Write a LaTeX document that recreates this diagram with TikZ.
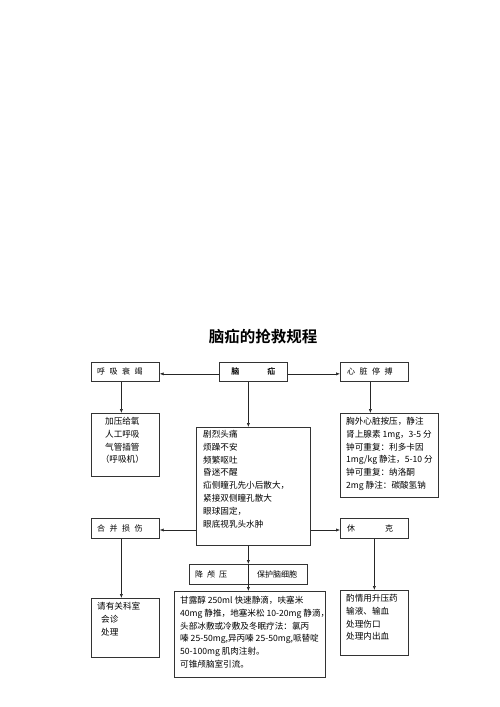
\documentclass[tikz,border=0pt]{standalone}
\usepackage{fontspec}
\setmainfont{Noto Sans CJK SC}
\newfontfamily\cjkb{Noto Sans CJK SC Bold}
\usetikzlibrary{arrows.meta,calc}
\tikzset{
  box/.style={draw=black!80, line width=0.7pt, rectangle, anchor=north west, inner sep=0pt},
  lbl/.style={anchor=west, inner sep=0pt, font=\fontsize{8}{10}\selectfont},
  body/.style={anchor=north west, inner sep=0pt, align=left, font=\fontsize{8.6}{12.8}\selectfont},
  arr/.style={draw=black!85, line width=0.6pt, -{Latex[length=4pt,width=3.2pt]}},
  ln/.style={draw=black!85, line width=0.6pt}
}
\begin{document}
\begin{tikzpicture}[x=1pt,y=-1pt]
\useasboundingbox[fill=white] (0,0) rectangle (500,707);
% title
\node[font=\cjkb\fontsize{15.5}{17}\selectfont, inner sep=0pt] (title) at (263,337) {脑疝的抢救规程};
% top row boxes
\node[box, minimum width=68, minimum height=19] (hx) at (91,362) {};
\node[lbl] at ([xshift=6]hx.west) {呼\hspace{4.5pt}吸\hspace{4.5pt}衰\hspace{4.5pt}竭};
\node[box, minimum width=68, minimum height=19] (nh) at (219,362) {};
\node[lbl, anchor=center, font=\cjkb\fontsize{8}{10}\selectfont] at (nh.center) {脑\hspace{28pt}疝};
\node[box, minimum width=68, minimum height=19] (xz) at (340,362) {};
\node[lbl] at ([xshift=7]xz.west) {心\hspace{4.5pt}脏\hspace{4.5pt}停\hspace{4.5pt}搏};
% second row boxes
\node[box, minimum width=68, minimum height=63] (b1) at (91,413) {};
\node[body, anchor=north, align=center] at ([shift={(-3,4)}]b1.north) {加压给氧\\人工呼吸\\气管插管\\（呼吸机）};
\node[box, minimum width=114, minimum height=118] (sym) at (196,427) {};
\node[body] at ([shift={(7,3)}]sym.north west) {剧烈头痛\\烦躁不安\\频繁呕吐\\昏迷不醒\\疝侧瞳孔先小后散大，\\紧接双侧瞳孔散大\\眼球固定，\\眼底视乳头水肿};
\node[box, minimum width=98, minimum height=84] (b3) at (340,413) {};
\node[body] at ([shift={(6,4)}]b3.north west) {胸外心脏按压，静注\\肾上腺素 1mg，3-5 分\\钟可重复：利多卡因\\1mg/kg 静注，5-10 分\\钟可重复：纳洛酮\\2mg 静注：碳酸氢钠};
% third row
\node[box, minimum width=68, minimum height=20] (hb) at (91,518) {};
\node[lbl] at ([xshift=6]hb.west) {合\hspace{4.5pt}并\hspace{4.5pt}损\hspace{4.5pt}伤};
\node[box, minimum width=68, minimum height=20] (xk) at (340,518) {};
\node[lbl] at ([xshift=7]xk.west) {休\hspace{30pt}克};
\node[box, minimum width=118, minimum height=20] (jl) at (189,564) {};
\node[lbl] at ([xshift=6]jl.west) {降\hspace{4pt}颅\hspace{4pt}压};
\node[lbl] at ([xshift=68]jl.west) {保护脑细胞};
% bottom row
\node[box, minimum width=68, minimum height=59] (bl) at (91,598) {};
\node[body] at ([shift={(6,4)}]bl.north west) {请有关科室\\\hspace{4pt}会诊\\\hspace{4pt}处理};
\node[box, minimum width=151, minimum height=86] (bm) at (174,591) {};
\node[body] at ([shift={(6,5)}]bm.north west) {甘露醇 250ml 快速静滴，呋塞米\\40mg 静推，地塞米松 10-20mg 静滴，\\头部冰敷或冷敷及冬眠疗法：氯丙\\嗪 25-50mg,异丙嗪 25-50mg,哌替啶\\50-100mg 肌肉注射。\\可锥颅脑室引流。};
\node[box, minimum width=68, minimum height=65] (br) at (340,590) {};
\node[body] at ([shift={(6,4)}]br.north west) {酌情用升压药\\输液、输血\\处理伤口\\处理内出血};
% connectors
\draw[arr] ([yshift=-2]nh.west) -- ([yshift=-2]hx.east);
\draw[arr] ([yshift=-2]nh.east) -- ([yshift=-2]xz.west);
\draw[arr] ([xshift=-4]hx.south) -- ([xshift=-4]hx.south |- b1.north);
\draw[arr] (jl.center |- nh.south) -- (jl.center |- sym.north);
\draw[arr] ([xshift=-4]xz.south) -- ([xshift=-4]xz.south |- b3.north);
\draw[arr] (sym.west |- 0,530) -- (hb.east |- 0,530);
\draw[arr] (sym.east |- 0,530) -- (xk.west |- 0,530);
\draw[arr] (jl.center |- sym.south) -- (jl.north);
\draw[arr] (jl.north) -- (jl.center |- bm.north);
\draw[arr] ([xshift=-4]hb.south) -- ([xshift=-4]hb.south |- bl.north);
\draw[arr] (xk.south) -- (xk.south |- br.north);
\end{tikzpicture}
\end{document}
